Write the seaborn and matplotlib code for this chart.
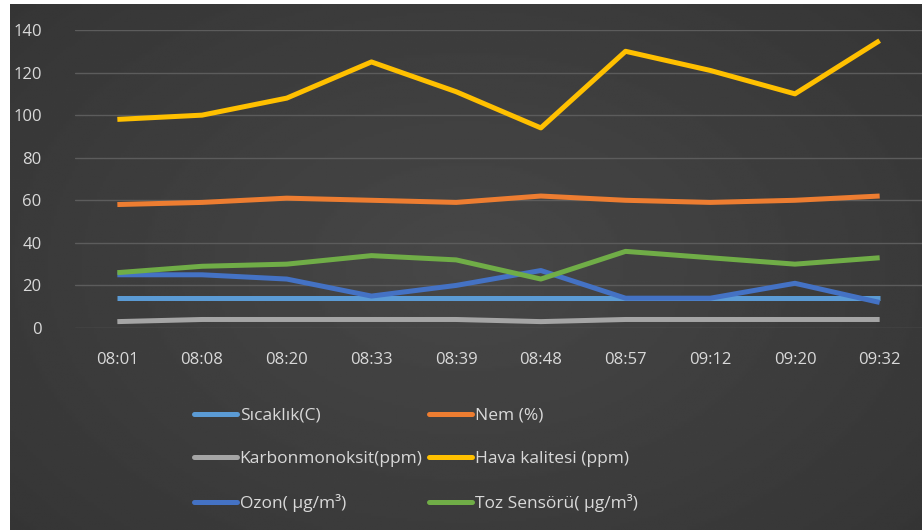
import numpy as np
import pandas as pd
import matplotlib
matplotlib.use("Agg")
import matplotlib.pyplot as plt
import seaborn as sns
from matplotlib.lines import Line2D

times = ["08:01", "08:08", "08:20", "08:33", "08:39", "08:48", "08:57", "09:12", "09:20", "09:32"]
sicaklik = [14, 14, 14, 14, 14, 14, 14, 14, 14, 14]
nem = [58, 59, 61, 60, 59, 62, 60, 59, 60, 62]
karbon = [3, 4, 4, 4, 4, 3, 4, 4, 4, 4]
hava = [98, 100, 108, 125, 111, 94, 130, 121, 110, 135]
ozon = [25, 25, 23, 15, 20, 27, 14, 14, 21, 12]
toz = [26, 29, 30, 34, 32, 23, 36, 33, 30, 33]

names = ["Sıcaklık(C)", "Nem (%)", "Karbonmonoksit(ppm)", "Hava kalitesi (ppm)",
         "Ozon( µg/m³)", "Toz Sensörü( µg/m³)"]
series = [sicaklik, nem, karbon, hava, ozon, toz]
colors = ["#5B9BD5", "#ED7D31", "#A5A5A5", "#FFC000", "#4472C4", "#70AD47"]

rows = []
for n, vals in zip(names, series):
    for t, v in zip(times, vals):
        rows.append({"time": t, "value": v, "series": n})
df = pd.DataFrame(rows)
df["x"] = df["time"].map({t: i for i, t in enumerate(times)})

sns.set_theme(style="dark")
plt.rcParams["font.family"] = ["Open Sans", "DejaVu Sans"]

W, H = 922, 530
fig = plt.figure(figsize=(W / 100, H / 100), dpi=100, facecolor="white")

# dark background panel with slight gradient
bg = fig.add_axes([10 / W, 0, 1 - 10 / W, 1 - 4 / H])
yy, xx = np.mgrid[-1:1:200j, -1:1:300j]
grad = 0.28 - 0.06 * np.sqrt(xx ** 2 * 0.8 + yy ** 2 * 0.6)
bg.imshow(grad, cmap="gray", vmin=0, vmax=1, aspect="auto", extent=[0, 1, 0, 1])
bg.set_axis_off()

ax = fig.add_axes([75 / W, 1 - 328 / H, (922 - 75) / W, (328 - 30) / H])
ax.patch.set_alpha(0)
ax.set_zorder(2)

draw_order = [2, 0, 4, 5, 1, 3]
for i in draw_order:
    sub = df[df["series"] == names[i]]
    sns.lineplot(data=sub, x="x", y="value", ax=ax, color=colors[i], linewidth=3.6,
                 legend=False, solid_capstyle="butt", solid_joinstyle="round")

ax.set_xlim(-0.5, 9.5)
ax.set_ylim(0, 140)
ax.set_yticks(np.arange(0, 141, 20))
ax.set_xticks(range(len(times)))
ax.set_xticklabels(times)
ax.set_xlabel("")
ax.set_ylabel("")
ax.grid(axis="y", color="#5c5c5c", linewidth=1)
ax.grid(axis="x", visible=False)
for s in ax.spines.values():
    s.set_visible(False)
ax.tick_params(axis="both", colors="#D9D9D9", labelsize=12, length=0)
ax.tick_params(axis="y", pad=24)
ax.tick_params(axis="x", pad=17)
for lbl in ax.get_yticklabels() + ax.get_xticklabels():
    lbl.set_color("#D9D9D9")

order = [0, 2, 4, 1, 3, 5]
handles = [Line2D([0], [0], color=colors[i], linewidth=3.6) for i in order]
labels = [names[i] for i in order]
leg = fig.legend(handles, labels, ncol=2, loc="upper left",
                 bbox_to_anchor=(178 / W, 1 - 392 / H), frameon=False,
                 fontsize=12.5, handlelength=2.5, handletextpad=0.15,
                 columnspacing=0.35, labelspacing=1.55, labelcolor="#D9D9D9")

fig.savefig("out.png", dpi=100, facecolor="white")
